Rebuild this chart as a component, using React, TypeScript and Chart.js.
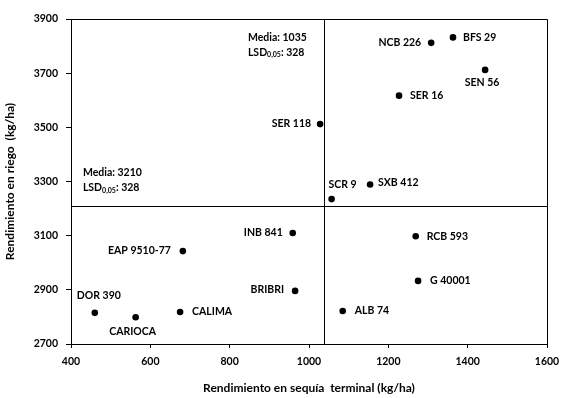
import React, { useEffect, useRef } from 'react';
import { Chart, registerables } from 'chart.js';

Chart.register(...registerables);

const genotypes = ['BFS 29', 'NCB 226', 'SEN 56', 'SER 16', 'SER 118', 'SXB 412', 'SCR 9', 'INB 841', 'RCB 593', 'G 40001', 'BRIBRI', 'ALB 74', 'EAP 9510-77', 'DOR 390', 'CARIOCA', 'CALIMA'];
const droughtYield = [1363, 1308, 1444, 1227, 1028, 1154, 1057, 959, 1269, 1275, 965, 1085, 682, 460, 563, 675];
const irrigatedYield = [3832, 3812, 3712, 3617, 3512, 3289, 3235, 3110, 3098, 2933, 2896, 2822, 3043, 2815, 2799, 2818];
const xTickValues = [400, 600, 800, 1000, 1200, 1400, 1600];
const yTickValues = [2700, 2900, 3100, 3300, 3500, 3700, 3900];
const meanDroughtLabel = 1035;
const meanDroughtLine = 1039;
const meanIrrigated = 3210;
const lsdValue = 328;

const FONT = 'Lato, "Open Sans", sans-serif';
const LABEL_SIZE = 10.5;

// label placement: [align, dx, dy]
const placement: Record<string, [CanvasTextAlign, number, number]> = {
  'BFS 29': ['left', 10, 0],
  'NCB 226': ['right', -10, 0],
  'SEN 56': ['center', -3, 13],
  'SER 16': ['left', 11, 0],
  'SER 118': ['right', -9, 0],
  'SXB 412': ['left', 8, -2],
  'SCR 9': ['left', -3, -14],
  'INB 841': ['right', -10, 0],
  'RCB 593': ['left', 11, 0],
  'G 40001': ['left', 12, 0],
  'BRIBRI': ['right', -11, -1],
  'ALB 74': ['left', 12, 0],
  'EAP 9510-77': ['right', -12, 0],
  'DOR 390': ['center', 4, -17],
  'CARIOCA': ['center', -3, 14],
  'CALIMA': ['left', 12, 0],
};

const drawLsd = (ctx: CanvasRenderingContext2D, x: number, y: number) => {
  ctx.textAlign = 'left';
  ctx.textBaseline = 'middle';
  ctx.font = `bold ${LABEL_SIZE}px ${FONT}`;
  ctx.fillText('LSD', x, y);
  let w = ctx.measureText('LSD').width;
  ctx.font = `bold 7px ${FONT}`;
  ctx.fillText('0,05', x + w, y + 3);
  w += ctx.measureText('0,05').width;
  ctx.font = `bold ${LABEL_SIZE}px ${FONT}`;
  ctx.fillText(`: ${lsdValue}`, x + w, y);
};

const overlayPlugin = {
  id: 'overlay',
  afterDatasetsDraw(chart: any) {
    const { ctx, chartArea, scales } = chart;
    const xs = scales.x;
    const ys = scales.y;
    ctx.save();
    ctx.strokeStyle = '#000';
    ctx.lineWidth = 1;
    ctx.beginPath();
    ctx.moveTo(chartArea.left, Math.round(chartArea.top) + 0.5);
    ctx.lineTo(Math.round(chartArea.right) + 0.5, Math.round(chartArea.top) + 0.5);
    ctx.lineTo(Math.round(chartArea.right) + 0.5, chartArea.bottom);
    const mx = Math.round(xs.getPixelForValue(meanDroughtLine)) + 0.5;
    ctx.moveTo(mx, chartArea.top);
    ctx.lineTo(mx, chartArea.bottom);
    const my = Math.round(ys.getPixelForValue(meanIrrigated)) + 0.5;
    ctx.moveTo(chartArea.left, my);
    ctx.lineTo(chartArea.right, my);
    ctx.stroke();

    ctx.fillStyle = '#000';
    ctx.font = `bold ${LABEL_SIZE}px ${FONT}`;
    ctx.textBaseline = 'middle';
    genotypes.forEach((g, i) => {
      const px = xs.getPixelForValue(droughtYield[i]);
      const py = ys.getPixelForValue(irrigatedYield[i]);
      const p = placement[g] || ['left', 10, 0];
      ctx.textAlign = p[0];
      ctx.fillText(g, px + p[1], py + p[2]);
    });

    const a1x = xs.getPixelForValue(846);
    const a1y = ys.getPixelForValue(3833);
    ctx.textAlign = 'left';
    ctx.font = `bold ${LABEL_SIZE}px ${FONT}`;
    ctx.fillText(`Media: ${meanDroughtLabel}`, a1x, a1y);
    drawLsd(ctx, a1x, a1y + 15);

    const a2x = xs.getPixelForValue(430);
    const a2y = ys.getPixelForValue(3331);
    ctx.font = `bold ${LABEL_SIZE}px ${FONT}`;
    ctx.textAlign = 'left';
    ctx.fillText(`Media: ${meanIrrigated}`, a2x, a2y);
    drawLsd(ctx, a2x, a2y + 15);
    ctx.restore();
  },
};

export default function App() {
  const ref = useRef<HTMLCanvasElement>(null);
  useEffect(() => {
    if (!ref.current) return;
    const chart = new Chart(ref.current, {
      type: 'scatter',
      data: {
        datasets: [
          {
            label: 'Genotipos',
            data: genotypes.map((_, i) => ({ x: droughtYield[i], y: irrigatedYield[i] })),
            backgroundColor: '#000',
            borderColor: '#000',
            borderWidth: 0,
            pointRadius: 3.3,
          },
        ],
      },
      options: {
        responsive: false,
        animation: false,
        layout: { padding: { top: 19, right: 25, left: 0, bottom: 0 } },
        plugins: { legend: { display: false }, tooltip: { enabled: false } },
        scales: {
          x: {
            type: 'linear',
            min: 400,
            max: 1600,
            afterBuildTicks: (s: any) => { s.ticks = xTickValues.map((v) => ({ value: v })); },
            afterFit: (s: any) => { s.height = 54; },
            ticks: { color: '#000', padding: 7, callback: (v: any) => String(v), font: { family: FONT, size: 10.5, weight: 'bold' } },
            grid: { drawOnChartArea: false, drawTicks: true, tickLength: 4, color: '#000' },
            border: { display: true, color: '#000', width: 1 },
            title: {
              display: true,
              text: 'Rendimiento en sequía  terminal (kg/ha)',
              color: '#000',
              font: { family: FONT, size: 12, weight: 'bold' },
              padding: { top: 0, bottom: 3 },
            },
          },
          y: {
            type: 'linear',
            min: 2700,
            max: 3900,
            afterBuildTicks: (s: any) => { s.ticks = yTickValues.map((v) => ({ value: v })); },
            afterFit: (s: any) => { s.width = 71; },
            ticks: { color: '#000', padding: 8, callback: (v: any) => String(v), font: { family: FONT, size: 10.5, weight: 'bold' } },
            grid: { drawOnChartArea: false, drawTicks: true, tickLength: 5, color: '#000' },
            border: { display: true, color: '#000', width: 1 },
            title: {
              display: true,
              text: 'Rendimiento en riego  (kg/ha)',
              color: '#000',
              font: { family: FONT, size: 12, weight: 'bold' },
              padding: { top: 3, bottom: 0 },
            },
          },
        },
      },
      plugins: [overlayPlugin],
    });
    return () => chart.destroy();
  }, []);
  return (
    <div style={{ position: 'absolute', left: 0, top: 0, width: 572, height: 398, background: '#fff' }}>
      <canvas ref={ref} width={572} height={398} style={{ display: 'block' }} />
    </div>
  );
}
